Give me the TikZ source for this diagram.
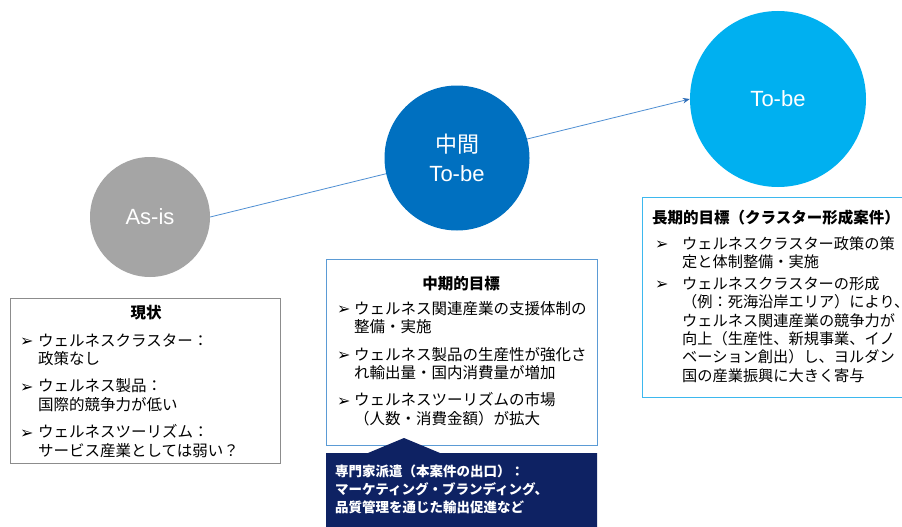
\documentclass[tikz,border=0pt]{standalone}
\usepackage{fontspec}
\setmainfont{Noto Sans CJK JP}
\newfontfamily\latinfont{Liberation Sans}
\newfontfamily\symfont{DejaVu Sans}
\usetikzlibrary{arrows.meta,backgrounds}
\definecolor{asisgray}{HTML}{A5A5A5}
\definecolor{midblue}{HTML}{0070C0}
\definecolor{tobecyan}{HTML}{00B0F0}
\definecolor{arrowblue}{HTML}{4F8FD3}
\definecolor{tipblue}{HTML}{2E6DB8}
\definecolor{boxgray}{HTML}{8C8C8C}
\definecolor{boxblue}{HTML}{5B9BD5}
\definecolor{boxcyan}{HTML}{3DB8EE}
\definecolor{navy}{HTML}{0E2263}
\newcommand\blt{{\symfont\fontsize{16}{16}\selectfont\raisebox{-0.5pt}{➢}}}
\newcommand\bcol[1]{\makebox[#1][l]{\blt}}
\tikzset{
  circ/.style={circle, inner sep=0pt, text=white, align=center},
  frame/.style={draw, line width=0.9pt, inner sep=0pt, anchor=north west},
  title/.style={inner sep=0pt, font=\bfseries\fontsize{15.5}{18.5}\selectfont},
  body/.style={anchor=base west, inner sep=0pt, align=left},
  arrowline/.style={draw=arrowblue, line width=0.8pt, -{Stealth[length=7pt,width=5.5pt,color=tipblue]}}
}
\begin{document}
\begin{tikzpicture}[x=1pt,y=-1pt]
\useasboundingbox (0,0) rectangle (902,527);
\clip (0,0) rectangle (902,527);

% circles
\node[circ, fill=asisgray, minimum size=120pt, font=\latinfont\fontsize{22}{26}\selectfont] (asis) at (150,217) {As-is};
\node[circ, fill=midblue, minimum size=145pt, font=\fontsize{22}{29}\selectfont] (mid) at (457,158) {中間\\{\latinfont To-be}};
\node[circ, fill=tobecyan, minimum size=176pt, font=\latinfont\fontsize{22}{26}\selectfont] (tobe) at (778,99) {To-be};
\begin{scope}[on background layer]
\fill[white] (0,0) rectangle (902,527);
\draw[arrowline] (asis.east) -- (tobe.west);
\end{scope}

% box 1
\node[frame, draw=boxgray, minimum width=270pt, minimum height=165pt] (b1) at (10,298) {};
\node[title, anchor=base] (t1) at (146,318) {現状};
\node[body] (l1) at (20,346) {\fontsize{15.5}{18.5}\selectfont
\begin{tabular}[t]{@{}l@{}l@{}}
\bcol{18pt} & ウェルネスクラスター：\\
 & 政策なし\\[8.5pt]
\bcol{18pt} & ウェルネス製品：\\
 & 国際的競争力が低い\\[8.5pt]
\bcol{18pt} & ウェルネスツーリズム：\\
 & サービス産業としては弱い？
\end{tabular}};

% box 2
\node[frame, draw=boxblue, minimum width=271pt, minimum height=186pt] (b2) at (326,259) {};
\node[title, anchor=base] (t2) at (461,289) {中期的目標};
\node[body] (l2) at (337,314) {\fontsize{15.5}{18.5}\selectfont
\begin{tabular}[t]{@{}l@{}l@{}}
\bcol{17pt} & ウェルネス関連産業の支援体制の\\
 & 整備・実施\\[9pt]
\bcol{17pt} & ウェルネス製品の生産性が強化さ\\
 & れ輸出量・国内消費量が増加\\[8pt]
\bcol{17pt} & ウェルネスツーリズムの市場\\
 & （人数・消費金額）が拡大
\end{tabular}};

% expert box
\fill[navy] (326,453) -- (368,453) -- (404,438) -- (440,453) -- (597,453) -- (597,540) -- (326,540) -- cycle;
\node[body, text=white] (ex) at (335,476) {\bfseries\fontsize{13.5}{18}\selectfont
\begin{tabular}[t]{@{}l@{}}
専門家派遣（本案件の出口）：\\
マーケティング・ブランディング、\\
品質管理を通じた輸出促進など
\end{tabular}};

% box 3
\node[frame, draw=boxcyan, minimum width=280pt, minimum height=200pt] (b3) at (642,197) {};
\node[title, anchor=base west] (t3) at (652,223) {長期的目標（クラスター形成案件）};
\node[body] (l3) at (655,249) {\fontsize{15.2}{18}\selectfont
\begin{tabular}[t]{@{}l@{}l@{}}
\bcol{27pt} & ウェルネスクラスター政策の策\\
 & 定と体制整備・実施\\[4pt]
\bcol{27pt} & ウェルネスクラスターの形成\\
 & （例：死海沿岸エリア）により、\\
 & ウェルネス関連産業の競争力が\\
 & 向上（生産性、新規事業、イノ\\
 & ベーション創出）し、ヨルダン\\
 & 国の産業振興に大きく寄与
\end{tabular}};
\end{tikzpicture}
\end{document}
